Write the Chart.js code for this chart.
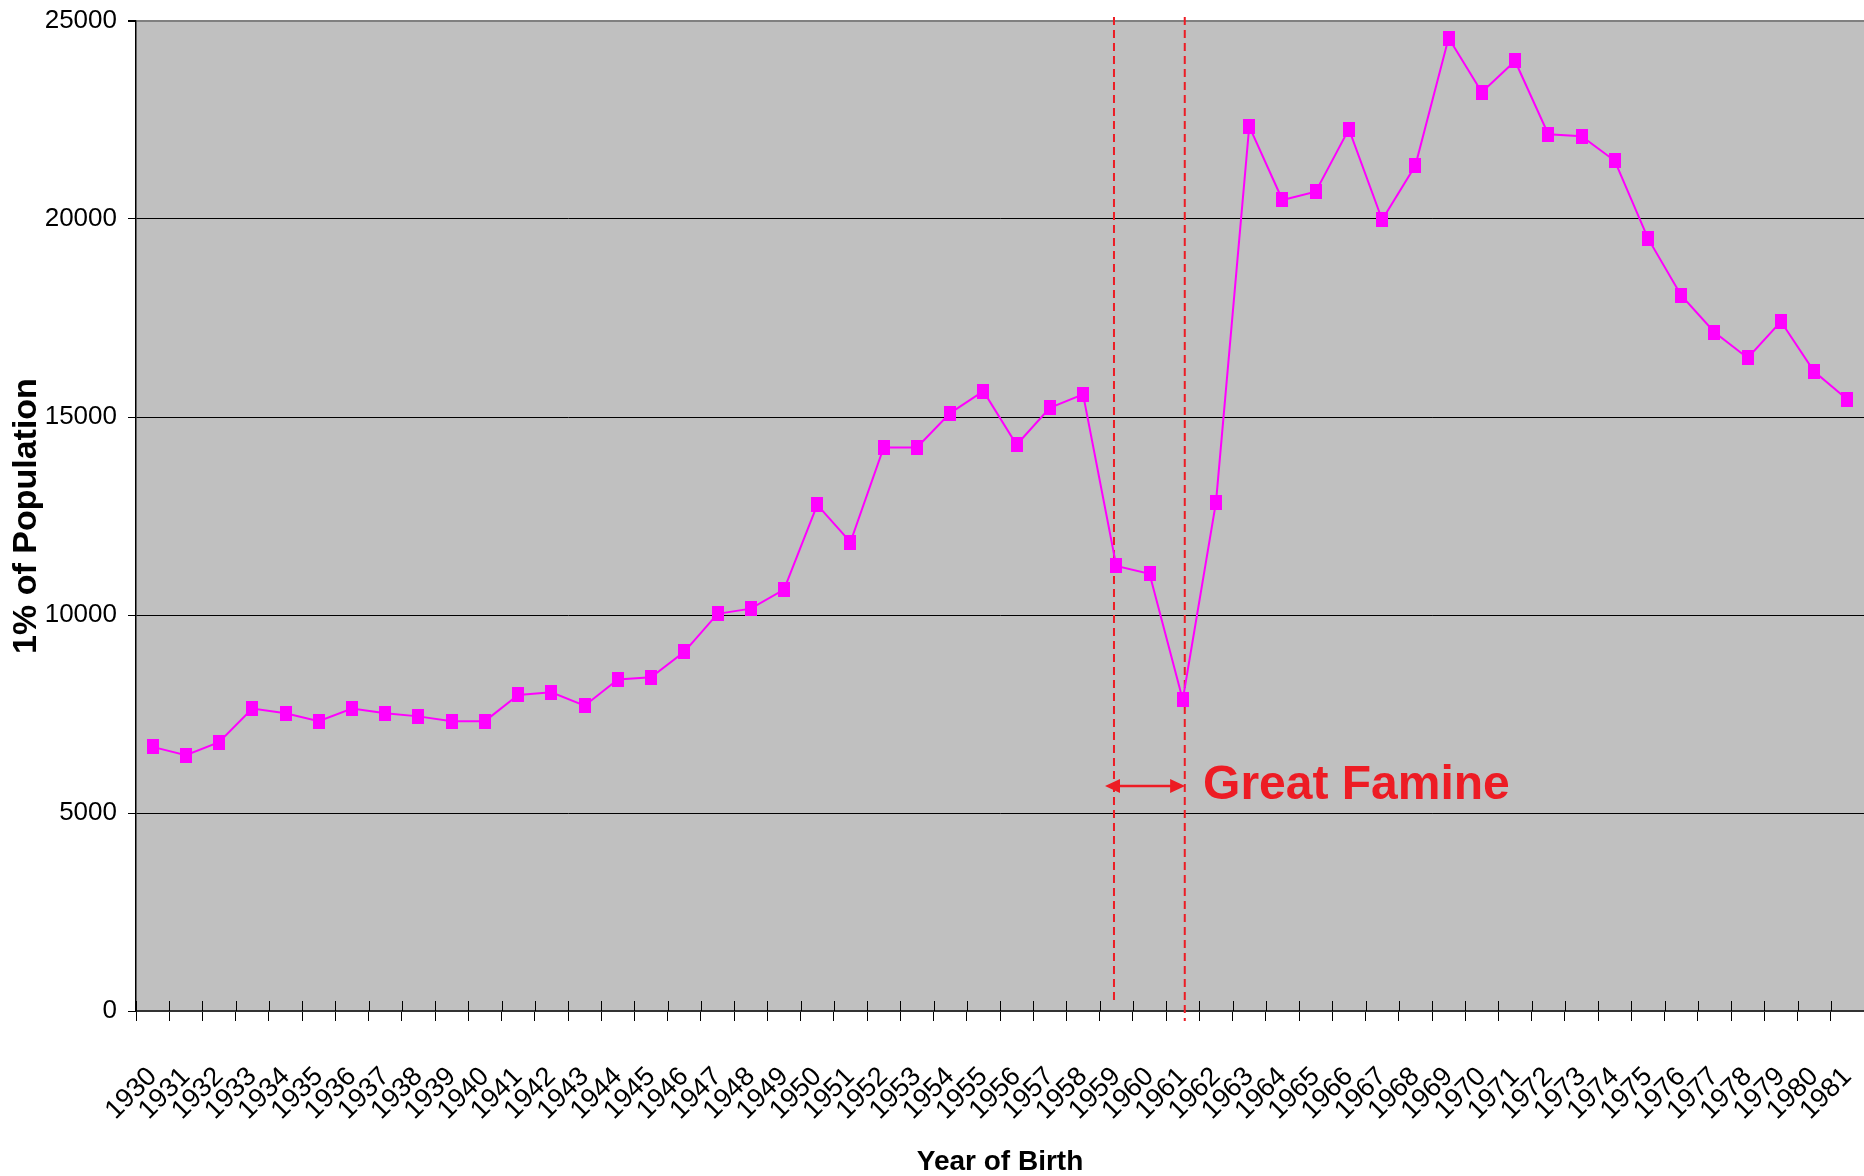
<!DOCTYPE html>
<html><head><meta charset="utf-8">
<script src="https://cdn.jsdelivr.net/npm/chart.js@4.4.1/dist/chart.umd.min.js"></script>
<style>html,body{margin:0;padding:0;background:#fff}#wrap{width:1864px;height:1176px}</style>
</head><body><div id="wrap"><canvas id="c" width="1864" height="1176"></canvas></div>
<script>
const years = ['1930','1931','1932','1933','1934','1935','1936','1937','1938','1939',
  '1940','1941','1942','1943','1944','1945','1946','1947','1948','1949',
  '1950','1951','1952','1953','1954','1955','1956','1957','1958','1959',
  '1960','1961','1962','1963','1964','1965','1966','1967','1968','1969',
  '1970','1971','1972','1973','1974','1975','1976','1977','1978','1979',
  '1980','1981'];
const population = [6670,6460,6790,7640,7520,7320,7640,7520,7440,7320,
  7320,7980,8050,7710,8370,8430,9070,10030,10160,10640,
  12780,11840,14230,14230,15100,15650,14300,15230,15570,11240,
  11040,7860,12850,22340,20480,20690,22270,19980,21350,24570,
  23200,23990,22140,22090,21470,19510,18070,17140,16490,17410,
  16150,15440];
const yTickValues = [0,5000,10000,15000,20000,25000];
const yTickLabels = ['0','5000','10000','15000','20000','25000'];
const xTitle = 'Year of Birth';
const yTitle = '1% of Population';
const annotationText = 'Great Famine';
// annotation anchors (category index / value units)
const famineLines = [28.93, 31.06];
const arrowFrom = 28.66, arrowTo = 31.07, arrowValue = 5680;
const textIndex = 31.61, textValue = 5350;

const FONT = "'Liberation Sans',Arial,sans-serif";
const RED = '#ED1C24';
const MAGENTA = '#FF00FF';

const marker = document.createElement('canvas');
marker.width = 12; marker.height = 15;
(function(){const m = marker.getContext('2d'); m.fillStyle = MAGENTA; m.fillRect(0,0,12,15);})();

const famPlugin = {
  id: 'fam',
  beforeDraw(chart) {
    const {ctx, chartArea: a} = chart;
    ctx.save();
    ctx.fillStyle = '#C0C0C0';
    ctx.fillRect(a.left, a.top, a.right - a.left, a.bottom - a.top);
    ctx.restore();
  },
  beforeDatasetsDraw(chart) {
    const {ctx, chartArea: a, scales: {x}} = chart;
    ctx.save();
    ctx.strokeStyle = '#000'; ctx.lineWidth = 1;
    for (let i = 0; i <= years.length; i++) {
      const px = Math.round(x.getPixelForValue(i - 0.5)) + 0.5;
      ctx.beginPath(); ctx.moveTo(px, a.bottom - 10); ctx.lineTo(px, a.bottom); ctx.stroke();
    }
    ctx.strokeStyle = RED; ctx.lineWidth = 2; ctx.setLineDash([8, 5]);
    famineLines.forEach((v, k) => {
      const px = x.getPixelForValue(v);
      ctx.beginPath(); ctx.moveTo(px, a.top - 4); ctx.lineTo(px, a.bottom + (k === 0 ? -6 : 10)); ctx.stroke();
    });
    ctx.restore();
  },
  afterDraw(chart) {
    const {ctx, scales: {x, y}} = chart;
    ctx.save();
    const x1 = x.getPixelForValue(arrowFrom), x2 = x.getPixelForValue(arrowTo), ay = y.getPixelForValue(arrowValue);
    ctx.strokeStyle = RED; ctx.fillStyle = RED; ctx.lineWidth = 2.5;
    ctx.beginPath(); ctx.moveTo(x1 + 10, ay); ctx.lineTo(x2 - 10, ay); ctx.stroke();
    ctx.beginPath(); ctx.moveTo(x1, ay); ctx.lineTo(x1 + 15, ay - 7); ctx.lineTo(x1 + 15, ay + 7); ctx.closePath(); ctx.fill();
    ctx.beginPath(); ctx.moveTo(x2, ay); ctx.lineTo(x2 - 15, ay - 7); ctx.lineTo(x2 - 15, ay + 7); ctx.closePath(); ctx.fill();
    ctx.font = "bold 48px " + FONT;
    ctx.textAlign = 'left'; ctx.textBaseline = 'alphabetic';
    ctx.fillText(annotationText, x.getPixelForValue(textIndex), y.getPixelForValue(textValue));
    ctx.restore();
  }
};

new Chart(document.getElementById('c'), {
  type: 'line',
  data: {
    labels: years,
    datasets: [{
      data: population,
      borderColor: MAGENTA,
      backgroundColor: MAGENTA,
      borderWidth: 2,
      pointStyle: marker,
      pointRadius: 7,
      tension: 0,
      fill: false
    }]
  },
  options: {
    responsive: false,
    devicePixelRatio: 1,
    animation: false,
    layout: {autoPadding: false, padding: {top: 21, left: 0, right: 0, bottom: 0}},
    plugins: {legend: {display: false}, tooltip: {enabled: false}},
    scales: {
      x: {
        type: 'category',
        offset: true,
        grid: {offset: true, drawOnChartArea: false, drawTicks: true, tickLength: 10, color: '#000', lineWidth: 1},
        border: {display: true, color: '#333', width: 2},
        ticks: {autoSkip: false, minRotation: 45, maxRotation: 45, padding: 40, color: '#000',
          font: {family: FONT, size: 27}},
        title: {display: true, text: xTitle, color: '#000', padding: {top: 0, bottom: -3},
          font: {family: FONT, size: 28, weight: 'bold'}},
        afterFit(s) { s.height = 165; s.paddingLeft = 0; s.paddingRight = 0; }
      },
      y: {
        min: 0, max: 25000,
        afterBuildTicks(s) { s.ticks = yTickValues.map(v => ({value: v})); },
        grid: {
          color: c => (c.tick && c.tick.value === 25000) ? '#808080' : '#000',
          lineWidth: c => (c.tick && c.tick.value === 25000) ? 2 : 1,
          tickColor: '#000', tickLength: 8, drawTicks: true
        },
        border: {display: true, color: '#000', width: 1.5},
        ticks: {padding: 11, color: '#000', font: {family: FONT, size: 26},
          callback: (v, i) => yTickLabels[i]},
        title: {display: true, text: yTitle, color: '#000', padding: {top: 6, bottom: 0},
          font: {family: FONT, size: 34, weight: 'bold'}},
        afterFit(s) { s.width = 136; s.paddingTop = 0; s.paddingBottom = 0; }
      }
    }
  },
  plugins: [famPlugin]
});
</script></body></html>
